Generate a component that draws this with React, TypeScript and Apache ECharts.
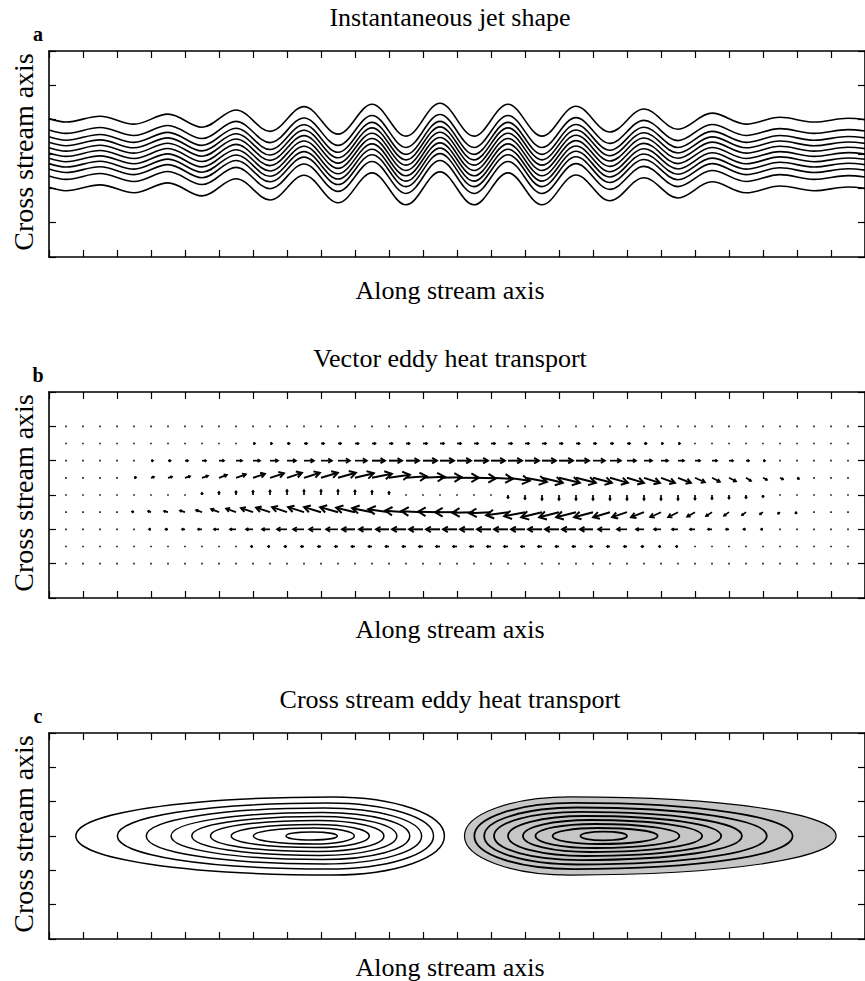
import React, { useEffect, useRef } from 'react';
import * as echarts from 'echarts';

// ---------- Panel a: instantaneous jet shape ----------
// x positions (along-stream units) of wave crests / troughs
const JET_X = [0, 0.5, 1.5, 2.5, 3.5, 4.5, 5.5, 6.5, 7.5, 8.5, 9.5, 10.5, 11.5, 12.5, 13.5, 14.5, 15.5, 16.5, 17.5, 18.5, 19.5, 20.5, 21.5, 22.5, 23.5, 24];
// cross-stream displacement of the jet at those positions (positive = up)
const JET_DISP = [0.03, -0.07, 0.10, -0.13, 0.16, -0.22, 0.28, -0.34, 0.38, -0.42, 0.45, -0.48, 0.48, -0.48, 0.45, -0.48, 0.39, -0.36, 0.31, -0.28, 0.19, -0.13, 0.07, -0.07, 0.04, 0];
// offsets of the 11 streamlines from the jet axis
const JET_OFFSETS = [1.0, 0.67, 0.47, 0.31, 0.155, 0, -0.155, -0.31, -0.47, -0.67, -1.0];
const JET_CENTER = 3;

// ---------- Panel b: vector eddy heat transport ----------
const ROW_Y = [5, 4.5, 4, 3.5, 3, 2.5, 2, 1.5, 1];
const U_Y50 = [0.5, 0.5, 0.5, 0.5, 0.5, 0.5, 0.5, 0.5, 0.5, 0.5, 0.5, 0.5, 0.5, 0.5, 0.6, 0.6, 0.6, 0.6, 0.7, 0.7, 0.7, 0.7, 0.7, 0.7, 0.7, 0.7, 0.7, 0.7, 0.7, 0.7, 0.7, 0.6, 0.6, 0.6, 0.6, 0.5, 0.5, 0.5, 0.5, 0.5, 0.5, 0.5, 0.5, 0.5, 0.5, 0.5, 0.5];
const U_Y45 = [0.5, 0.5, 0.5, 0.5, 0.5, 1, 1, 1, 1, 1.5, 1.5, 2, 2, 2.5, 3, 3, 3, 3.5, 3.5, 3.5, 3.5, 4, 4, 4, 4, 4, 4, 4, 4, 3.5, 3.5, 3, 3, 3, 2.5, 2, 2, 1.5, 1.5, 1, 1, 1, 1, 1, 0.5, 0.5, 0.5];
const U_Y40 = [0.5, 0.5, 1, 1, 1.5, 2, 2.5, 3, 4, 5, 6, 7, 8, 9, 10, 11, 12, 12, 13, 13, 13, 14, 14, 14, 14, 14, 14, 14, 14, 14, 13, 12, 11, 9, 8, 7, 6, 5, 5, 4, 3, 2, 1.5, 1, 1, 1, 0.5];
const U_Y35 = [0.5, 0.5, 1, 1.5, 2, 3, 4, 5, 6, 8, 10, 12, 14, 15, 16, 17, 18, 19, 20, 21, 21, 22, 22, 22, 22, 22, 22, 22, 21, 21, 20, 19, 18, 17, 16, 14, 13, 10, 8, 7, 5, 4, 3, 2, 1.5, 1, 1];
const U_Y25 = [-0.5, -0.5, -1, -1.5, -2, -3, -4, -5, -6, -8, -10, -12, -14, -15, -16, -17, -18, -19, -20, -21, -21, -22, -22, -22, -22, -22, -22, -21, -21, -20, -20, -19, -17, -15, -13, -11, -10, -8, -6, -5, -4, -3, -2, -1.5, -1, -1, -1];
const U_Y20 = [-0.5, -0.5, -1, -1, -1.5, -2, -2.5, -3, -4, -5, -6, -7, -8, -10, -11, -12, -12, -13, -13, -13, -14, -14, -14, -14, -14, -14, -14, -14, -14, -14, -14, -13, -12, -10, -8, -7, -6, -5, -4, -3, -2.5, -2, -1.5, -1, -1, -1, -0.5];
const U_Y15 = [-0.5, -0.5, -0.5, -0.5, -0.5, -1, -1, -1, -1, -1.5, -1.5, -2, -2, -2.5, -3, -3, -3, -3.5, -3.5, -3.5, -3.5, -4, -4, -4, -4, -4, -4, -4, -4, -3.5, -3.5, -3, -3, -3, -2.5, -2, -2, -1.5, -1.5, -1, -1, -1, -1, -1, -0.5, -0.5, -0.5];
const U_Y10 = [-0.5, -0.5, -0.5, -0.5, -0.5, -0.5, -0.5, -0.5, -0.5, -0.5, -0.5, -0.5, -0.5, -0.5, -0.6, -0.6, -0.6, -0.6, -0.7, -0.7, -0.7, -0.7, -0.7, -0.7, -0.7, -0.7, -0.7, -0.7, -0.7, -0.7, -0.7, -0.6, -0.6, -0.6, -0.6, -0.5, -0.5, -0.5, -0.5, -0.5, -0.5, -0.5, -0.5, -0.5, -0.5, -0.5, -0.5];
// cross-stream component in the three central rows
const V_CORE = [0.5, 0.5, 0.5, 0.5, 0.5, 1, 1, 1.5, 2, 3, 3.5, 4, 4.5, 5, 5, 5, 5, 4.5, 4, 3, 1.5, 1, 0.5, 0, -0.5, -1, -3, -4, -5, -5, -5, -5, -5, -5, -5, -5, -5, -4.5, -4, -3.5, -3, -2, -1.5, -1, -0.5, -0.5, -0.3];
const ROW_U = [U_Y50, U_Y45, U_Y40, U_Y35, null, U_Y25, U_Y20, U_Y15, U_Y10];
const ROW_V = [null, null, null, V_CORE, V_CORE, V_CORE, null, null, null];
const ARROW_COL_STEP = 0.5;
const ARROW_UNIT = 1 / 34.3;

// ---------- Panel c: cross-stream eddy heat transport contours ----------
const CONTOUR_Y = 3;
// negative lobe (open contours): tapered tip (left), blunt end (right)
const NEG_TIP = [0.79, 2.01, 2.86, 3.59, 4.2, 4.75, 5.36, 6.01, 6.97];
const NEG_END = [11.63, 11.31, 10.96, 10.61, 10.23, 9.85, 9.42, 8.98, 8.48];
const NEG_PEAK = [8.34, 8.19, 8.1, 8.05, 7.96, 7.9, 7.84, 7.78, 7.73];
const NEG_HALF = [1.137, 0.962, 0.816, 0.685, 0.569, 0.452, 0.335, 0.233, 0.117];
// positive lobe (shaded): tapered tip (right), blunt end (left)
const POS_TIP = [23.15, 21.87, 21.11, 20.38, 19.77, 19.21, 18.54, 17.9, 17.0];
const POS_END = [12.22, 12.51, 12.8, 13.09, 13.5, 13.94, 14.31, 14.81, 15.63];
const POS_PEAK = [15.34, 15.42, 15.54, 15.63, 15.77, 15.92, 16.06, 16.15, 16.3];
const POS_HALF = [1.137, 0.962, 0.83, 0.7, 0.583, 0.466, 0.35, 0.233, 0.125];

const TITLES = ['Instantaneous jet shape', 'Vector eddy heat transport', 'Cross stream eddy heat transport'];
const LETTERS = ['a', 'b', 'c'];
const X_NAME = 'Along stream axis';
const Y_NAME = 'Cross stream axis';

const GRID_TOPS = [51, 392, 733];
const X_NAME_GAP = [33, 31, 28];
const GRID_LEFT = 49;
const GRID_W = 823;
const GRID_H = 206;
const SERIF = '"Liberation Serif", "DejaVu Serif", serif';

function axisBase(max: number) {
  return {
    type: 'value',
    min: 0,
    max,
    interval: 1,
    axisLine: { show: true, onZero: false, lineStyle: { color: '#000', width: 1.6 } },
    axisTick: { show: true, inside: true, length: 7, lineStyle: { color: '#000', width: 1.2 } },
    axisLabel: { show: false },
    splitLine: { show: false },
  };
}

function contourPath(api: any, tip: number, end: number, peak: number, h: number) {
  const P = (x: number, y: number) => {
    const c = api.coord([x, y]);
    return c[0].toFixed(2) + ' ' + c[1].toFixed(2);
  };
  const yc = CONTOUR_Y;
  const kT = 0.58;
  const kE = 0.56;
  const tx = peak - (peak - tip) * kT;
  const ex = peak + (end - peak) * kE;
  return (
    'M' + P(tip, yc) +
    ' C' + P(tip, yc + h * kT) + ' ' + P(tx, yc + h) + ' ' + P(peak, yc + h) +
    ' C' + P(ex, yc + h) + ' ' + P(end, yc + h * kE) + ' ' + P(end, yc) +
    ' C' + P(end, yc - h * kE) + ' ' + P(ex, yc - h) + ' ' + P(peak, yc - h) +
    ' C' + P(tx, yc - h) + ' ' + P(tip, yc - h * kT) + ' ' + P(tip, yc) + ' Z'
  );
}

export default function App() {
  const ref = useRef<HTMLDivElement>(null);

  useEffect(() => {
    document.body.style.margin = '0';
    if (!ref.current) return;
    const chart = echarts.init(ref.current, null, { renderer: 'svg' });

    const xAxis: any[] = [];
    const yAxis: any[] = [];
    GRID_TOPS.forEach((_, i) => {
      xAxis.push({ ...axisBase(24), gridIndex: i, position: 'bottom' });
      xAxis.push({ ...axisBase(24), gridIndex: i, position: 'top' });
      yAxis.push({ ...axisBase(6), gridIndex: i, position: 'left' });
      yAxis.push({ ...axisBase(6), gridIndex: i, position: 'right' });
    });

    // panel a
    const jetSeries = JET_OFFSETS.map((off) => ({
      type: 'line',
      xAxisIndex: 0,
      yAxisIndex: 0,
      data: JET_X.map((x, i) => [x, JET_CENTER + off + JET_DISP[i]]),
      smooth: 0.36,
      symbol: 'none',
      silent: true,
      lineStyle: { color: '#000', width: 1.6 },
    }));

    // panel b
    const arrowData: number[][] = [];
    ROW_Y.forEach((y, r) => {
      const us = ROW_U[r];
      const vs = ROW_V[r];
      const n = 47;
      for (let k = 0; k < n; k++) {
        const u = us ? us[k] : 0;
        const v = vs ? vs[k] : 0;
        arrowData.push([(k + 1) * ARROW_COL_STEP, y, u, v]);
      }
    });

    const arrowSeries = {
      type: 'custom',
      xAxisIndex: 2,
      yAxisIndex: 2,
      silent: true,
      data: arrowData,
      renderItem: (params: any, api: any) => {
        const x = api.value(0);
        const y = api.value(1);
        const u = api.value(2);
        const v = api.value(3);
        const p = api.coord([x, y]);
        const s = api.size([1, 1]);
        const dx = u * ARROW_UNIT * s[0];
        const dy = -v * ARROW_UNIT * s[1];
        const len = Math.hypot(dx, dy);
        if (len < 1.6) {
          return { type: 'rect', shape: { x: p[0] - 0.8, y: p[1] - 0.8, width: 1.6, height: 1.6 }, style: { fill: '#111' } };
        }
        const hx = p[0] + dx;
        const hy = p[1] + dy;
        const ux = dx / len;
        const uy = dy / len;
        const hl = Math.max(1.4, 0.34 * len);
        const hw = Math.max(1.1, 0.2 * len);
        const b1 = [hx - ux * hl - uy * hw, hy - uy * hl + ux * hw];
        const b2 = [hx - ux * hl + uy * hw, hy - uy * hl - ux * hw];
        const lw = len > 12 ? 2 : 1.7;
        return {
          type: 'group',
          children: [
            { type: 'line', shape: { x1: p[0], y1: p[1], x2: hx, y2: hy }, style: { stroke: '#000', lineWidth: lw } },
            { type: 'polyline', shape: { points: [b1, [hx, hy], b2] }, style: { stroke: '#000', lineWidth: lw, fill: 'none' } },
          ],
        };
      },
    };

    // panel c
    const negData = NEG_TIP.map((t, i) => [t, NEG_END[i], NEG_PEAK[i], NEG_HALF[i], 0]);
    const posData = POS_TIP.map((t, i) => [t, POS_END[i], POS_PEAK[i], POS_HALF[i], i === 0 ? 1 : 0]);
    const contourRender = (lw: number) => (params: any, api: any) => {
      const d = contourPath(api, api.value(0), api.value(1), api.value(2), api.value(3));
      const filled = api.value(4) === 1;
      return {
        type: 'path',
        shape: { pathData: d },
        style: { fill: filled ? '#c6c6c6' : 'none', stroke: '#000', lineWidth: filled ? 1.2 : lw },
      };
    };
    const negSeries = {
      type: 'custom', xAxisIndex: 4, yAxisIndex: 4, silent: true, data: negData,
      renderItem: contourRender(1.5),
    };
    const posSeries = {
      type: 'custom', xAxisIndex: 4, yAxisIndex: 4, silent: true, data: posData,
      renderItem: contourRender(1.8),
    };

    const texts: any[] = [];
    GRID_TOPS.forEach((top, i) => {
      texts.push({
        type: 'text', x: 450, y: top - 34,
        style: { text: TITLES[i], font: '26px ' + SERIF, fill: '#000', align: 'center', verticalAlign: 'middle', textAlign: 'center', textVerticalAlign: 'middle' },
      });
      texts.push({
        type: 'text', x: 38, y: top - 17,
        style: { text: LETTERS[i], font: 'bold 20px ' + SERIF, fill: '#000', align: 'center', verticalAlign: 'middle', textAlign: 'center', textVerticalAlign: 'middle' },
      });
      texts.push({
        type: 'text', x: 450, y: top + GRID_H + X_NAME_GAP[i],
        style: { text: X_NAME, font: '26px ' + SERIF, fill: '#000', align: 'center', verticalAlign: 'middle', textAlign: 'center', textVerticalAlign: 'middle' },
      });
      texts.push({
        type: 'text', x: 23, y: top + GRID_H / 2 - 2, rotation: Math.PI / 2,
        style: { text: Y_NAME, font: '28px ' + SERIF, fill: '#000', align: 'center', verticalAlign: 'middle', textAlign: 'center', textVerticalAlign: 'middle' },
      });
    });

    chart.setOption({
      animation: false,
      backgroundColor: '#ffffff',
      grid: GRID_TOPS.map((top) => ({ left: GRID_LEFT, top, width: GRID_W, height: GRID_H, containLabel: false })),
      xAxis,
      yAxis,
      series: [...jetSeries, arrowSeries, negSeries, posSeries],
      graphic: { elements: texts },
    });

    return () => chart.dispose();
  }, []);

  return <div ref={ref} style={{ position: 'absolute', left: 0, top: 0, width: 865, height: 981 }} />;
}
